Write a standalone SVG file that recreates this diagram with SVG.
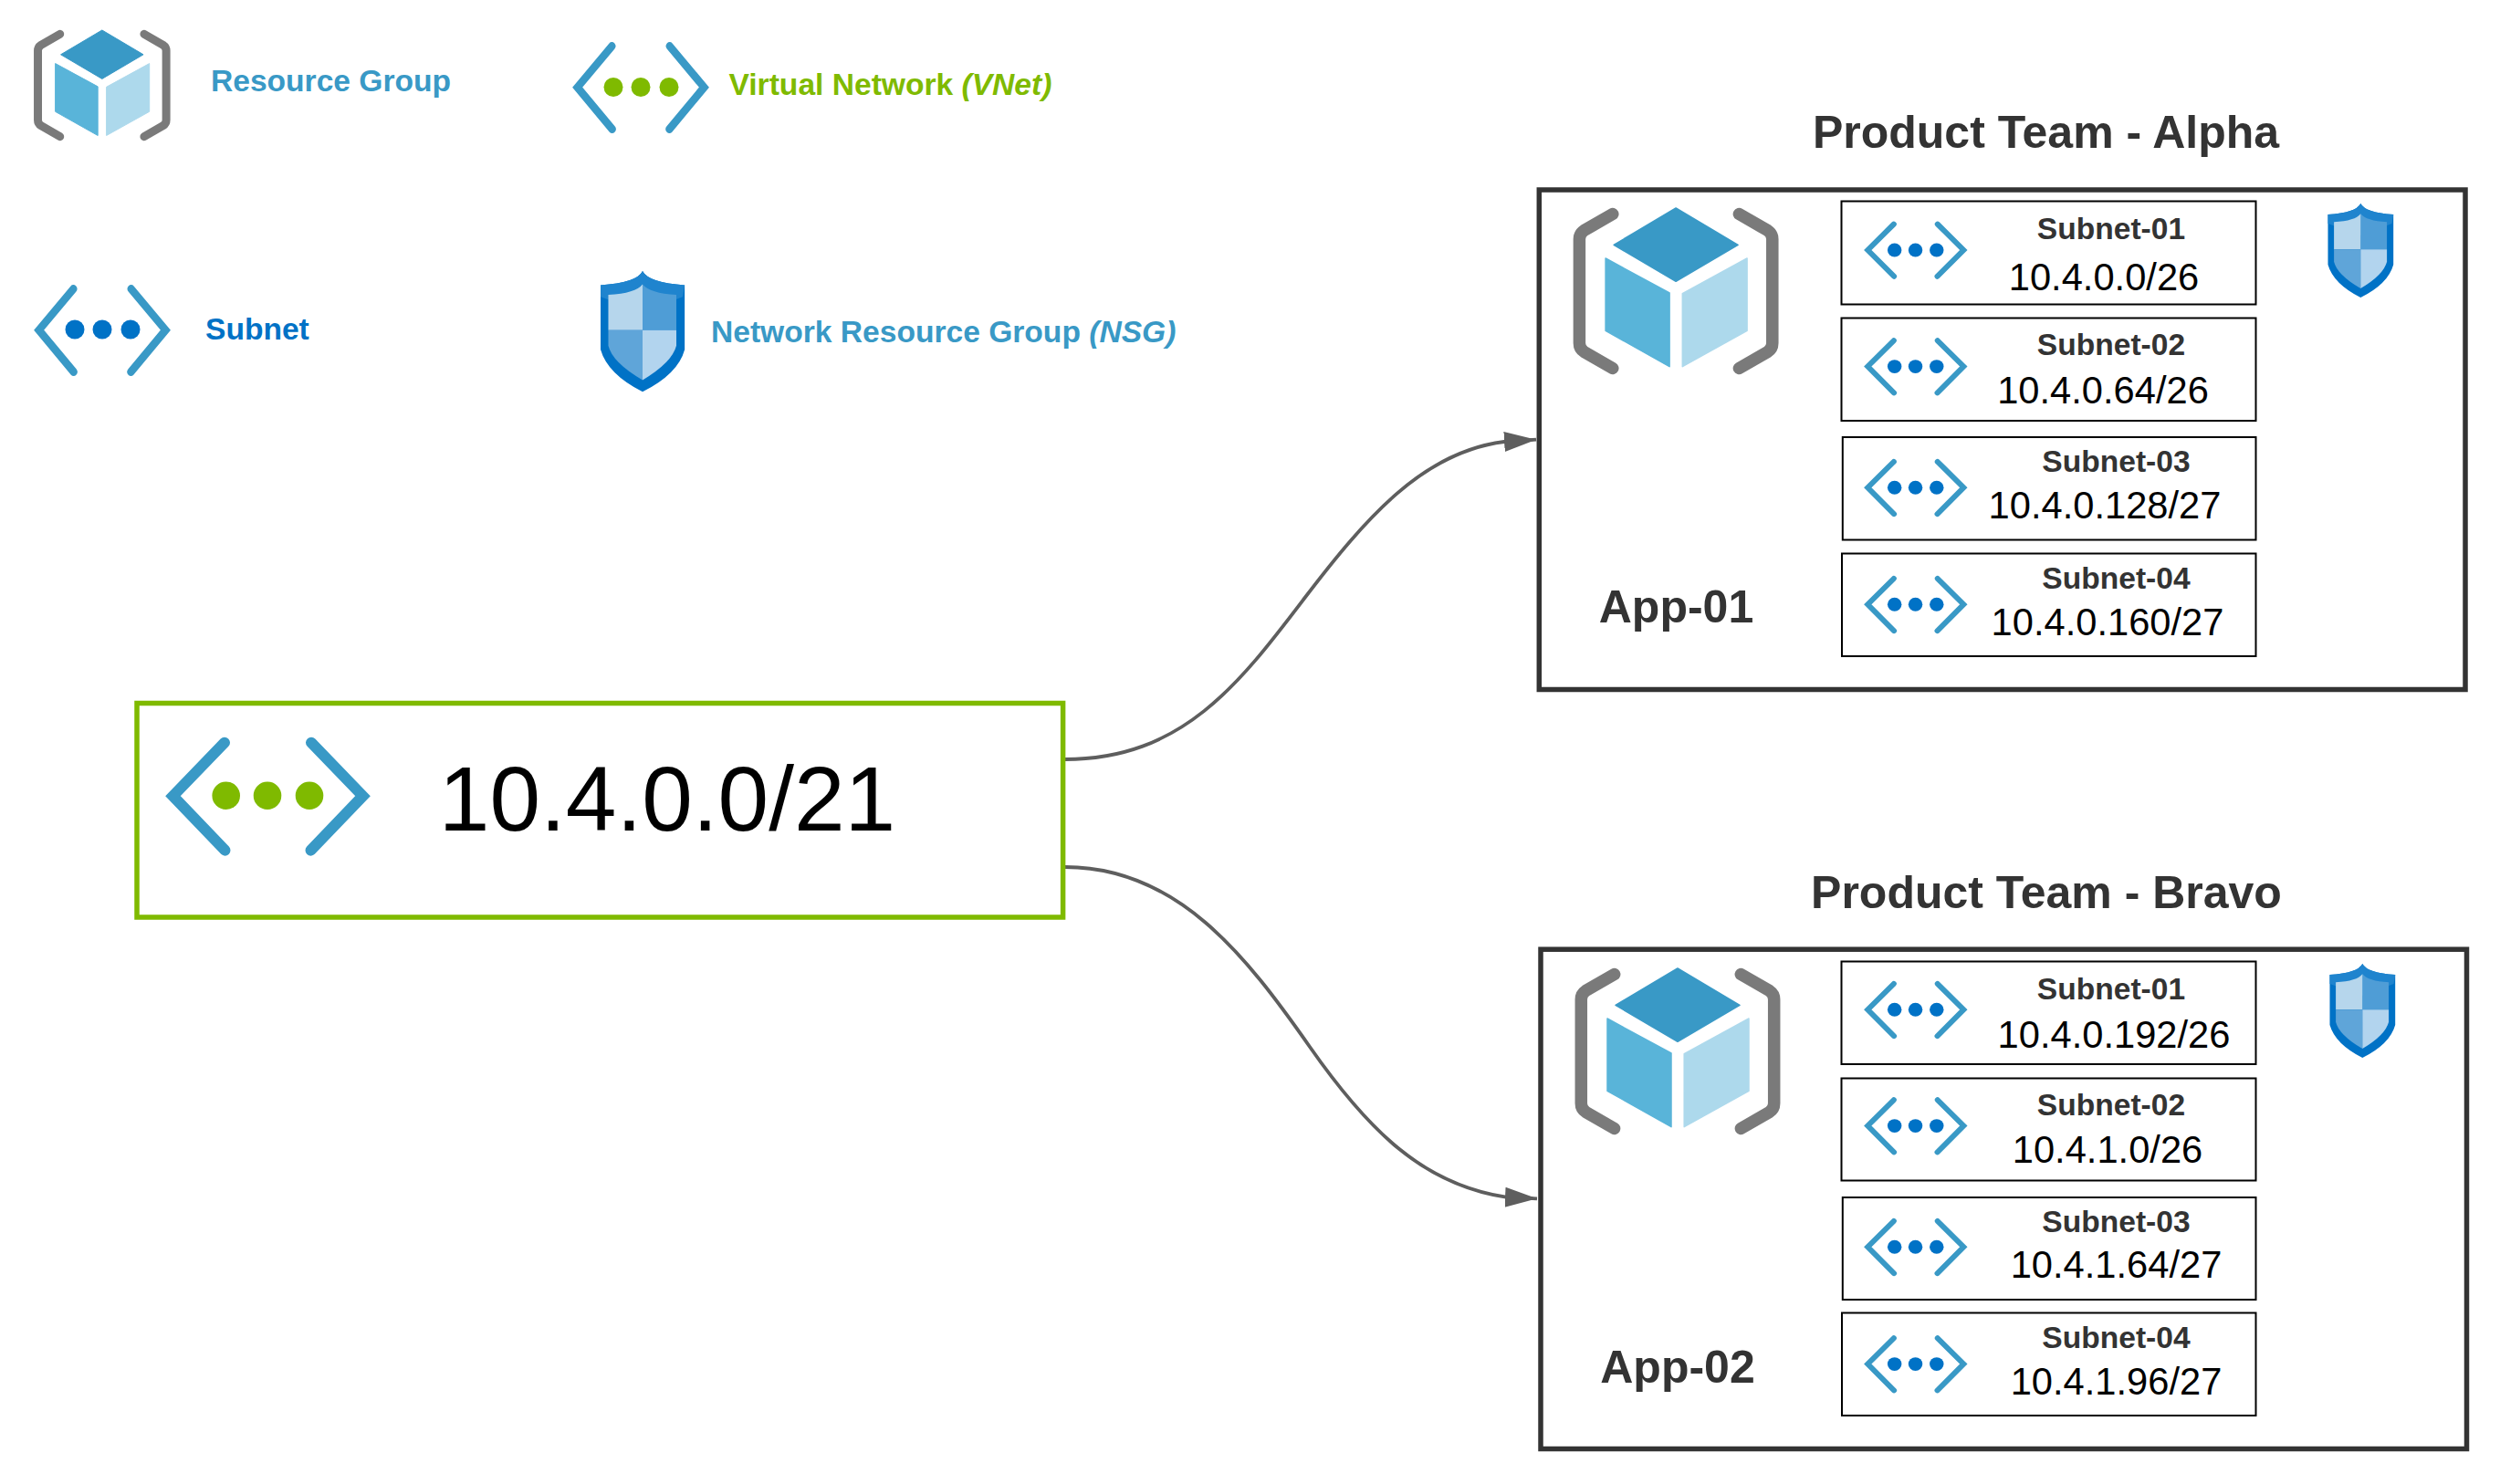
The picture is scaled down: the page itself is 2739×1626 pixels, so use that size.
<svg xmlns="http://www.w3.org/2000/svg" xmlns:xlink="http://www.w3.org/1999/xlink" width="2739" height="1626" viewBox="0 0 2739 1626">
<style>
text{font-family:"Liberation Sans",Arial,sans-serif}
.sn{font-size:33.6px;font-weight:bold;fill:#333;text-anchor:middle}
.ip{font-size:41.67px;fill:#000;text-anchor:middle}
.app{font-size:50px;font-weight:bold;fill:#333;text-anchor:middle}
.title{font-size:50px;font-weight:bold;fill:#333;text-anchor:middle}
.lg{font-size:33.6px;font-weight:bold}
.box{fill:#fff;stroke:#000;stroke-width:2}
.team{fill:#fff;stroke:#333;stroke-width:5.5}
.chev{fill:none;stroke:#3999C6;stroke-width:12;stroke-linecap:round;stroke-linejoin:miter}
.link{fill:none;stroke:#5E5E5E;stroke-width:3.8}
</style>
<defs>
<marker id="arrow" markerUnits="userSpaceOnUse" markerWidth="36" markerHeight="24" refX="35" refY="12" orient="auto"><path d="M0 1 L35 12 L0 23 Z" fill="#5E5E5E"/></marker>
<g id="rg">
<path d="M43.2 6.5 L12 24.5 Q6.8 28 6.8 34 V148 Q6.8 154 12 157.5 L43.2 175.5" fill="none" stroke="#7A7A7A" stroke-width="13.5" stroke-linecap="round"/>
<path d="M181.8 6.5 L213 24.5 Q218.2 28 218.2 34 V148 Q218.2 154 213 157.5 L181.8 175.5" fill="none" stroke="#7A7A7A" stroke-width="13.5" stroke-linecap="round"/>
<path d="M112.5 0 L180.5 40.3 L112.5 80.3 L44.5 40.3 Z" fill="#3999C6" stroke="#3999C6" stroke-width="1.5" stroke-linejoin="round"/>
<path d="M35.5 55 L105.5 93 V173.7 L35.5 134.3 Z" fill="#59B4D9" stroke="#59B4D9" stroke-width="1.5" stroke-linejoin="round"/>
<path d="M190.5 55 L119.7 93.7 V173.7 L190.5 134.3 Z" fill="#ADD9EC" stroke="#ADD9EC" stroke-width="1.5" stroke-linejoin="round"/>
</g>
<g id="chevrons">
<path class="chev" d="M65 6 L8.5 64.5 L65.5 124 M160 6 L216.5 64.5 L159.5 124"/>
</g>
<g id="subnetIcon" transform="scale(0.505 0.485)">
<use href="#chevrons"/>
<ellipse cx="66.7" cy="64.5" rx="15.3" ry="15.3" fill="#0072C6"/><ellipse cx="112" cy="64.5" rx="15.3" ry="15.3" fill="#0072C6"/><ellipse cx="158" cy="64.5" rx="15.3" ry="15.3" fill="#0072C6"/>
</g>
<g id="shield">
<path d="M35.8 0 Q41 10 71.7 12 V67 Q66 88 35.8 103 Q6 88 0 67 V12 Q31 10 35.8 0 Z" fill="#0072C6"/>
<path d="M35.8 0 Q41 10 71.7 12 L70 22 L35.8 35 L0 22 V12 Q31 10 35.8 0 Z" fill="#1F84CE"/>
<path d="M35.8 11.3 Q42 19 64.6 20.3 V50.3 H35.8 Z" fill="#4F9DD6"/>
<path d="M35.8 11.3 Q30 19 6.6 20.3 V50.3 H35.8 Z" fill="#B6D6EC"/>
<path d="M6.6 50.3 H35.8 V93 Q10 78 6.6 63.7 Z" fill="#5FA5D9"/>
<path d="M64.6 50.3 H35.8 V93 Q61 78 64.6 63.7 Z" fill="#B2D4EE"/>
</g>
</defs>

<g id="connectors">
<path class="link" d="M1167 832 C1295 832 1358 749 1428 657 C1498 565 1560 495 1648 484 L1683 481.7" marker-end="url(#arrow)"/>
<path class="link" d="M1167 950 C1290 950 1365 1047 1435 1147 C1500 1240 1560 1298 1650 1311.7 L1684 1313.3" marker-end="url(#arrow)"/>
</g>

<g id="legend-resource-group">
<use href="#rg" transform="translate(37 33) scale(0.665)"/>
<text class="lg" x="231" y="100" fill="#3999C6">Resource Group</text>
</g>
<g id="legend-vnet">
<use href="#chevrons" transform="translate(627 46) scale(0.667 0.77)"/>
<circle cx="702" cy="95.5" r="10.5" fill="#7FBA00"/><circle cx="733" cy="95.5" r="10.5" fill="#7FBA00"/><circle cx="672" cy="95.5" r="10.5" fill="#7FBA00"/>
<text class="lg" x="798.5" y="104" fill="#7FBA00">Virtual Network <tspan font-style="italic">(VNet)</tspan></text>
</g>
<g id="legend-subnet">
<use href="#chevrons" transform="translate(37 312) scale(0.667 0.77)"/>
<circle cx="82" cy="361" r="10.5" fill="#0072C6"/><circle cx="112" cy="361" r="10.5" fill="#0072C6"/><circle cx="143" cy="361" r="10.5" fill="#0072C6"/>
<text class="lg" x="225" y="372.3" fill="#0072C6">Subnet</text>
</g>
<g id="legend-nsg">
<use href="#shield" transform="translate(658 297) scale(1.285)"/>
<text class="lg" x="779" y="375" fill="#3999C6">Network Resource Group <tspan font-style="italic">(NSG)</tspan></text>
</g>

<g id="vnet">
<rect x="150" y="770.5" width="1014.6" height="234.5" fill="#fff" stroke="#7FBA00" stroke-width="5.5"/>
<use href="#chevrons" transform="translate(181 807.7)"/>
<circle cx="247.7" cy="871.7" r="15.3" fill="#7FBA00"/><circle cx="293" cy="871.7" r="15.3" fill="#7FBA00"/><circle cx="339" cy="871.7" r="15.3" fill="#7FBA00"/>
<text x="731" y="910" font-size="100" text-anchor="middle" fill="#000">10.4.0.0/21</text>
</g>

<g id="team-alpha">
<text class="title" x="2241.5" y="162">Product Team - Alpha</text>
<rect class="team" x="1686.3" y="208" width="1014.7" height="547.5"/>
<use href="#rg" transform="translate(1723.6 228)"/>
<text class="app" x="1836.5" y="682">App-01</text>
<use href="#shield" transform="translate(2550.5 223)"/>
<g id="alpha-subnet-01"><rect class="box" x="2017.5" y="220.5" width="454" height="113"/><use href="#subnetIcon" transform="translate(2042 242.7)"/><text class="sn" x="2313" y="261.7">Subnet-01</text><text class="ip" x="2305" y="317.7">10.4.0.0/26</text></g>
<g id="alpha-subnet-02"><rect class="box" x="2017.5" y="348.5" width="454" height="112.5"/><use href="#subnetIcon" transform="translate(2042 370.3)"/><text class="sn" x="2313" y="389">Subnet-02</text><text class="ip" x="2304" y="442.3">10.4.0.64/26</text></g>
<g id="alpha-subnet-03"><rect class="box" x="2018.8" y="479" width="452.7" height="112.5"/><use href="#subnetIcon" transform="translate(2042 503)"/><text class="sn" x="2318.5" y="517">Subnet-03</text><text class="ip" x="2306" y="567.5">10.4.0.128/27</text></g>
<g id="alpha-subnet-04"><rect class="box" x="2018" y="606.5" width="453.5" height="112.5"/><use href="#subnetIcon" transform="translate(2042 631)"/><text class="sn" x="2318.5" y="644.7">Subnet-04</text><text class="ip" x="2309" y="696">10.4.0.160/27</text></g>
</g>

<g id="team-bravo">
<text class="title" x="2242" y="995">Product Team - Bravo</text>
<rect class="team" x="1688" y="1040.2" width="1014.5" height="547.3"/>
<use href="#rg" transform="translate(1725.5 1061)"/>
<text class="app" x="1838" y="1515">App-02</text>
<use href="#shield" transform="translate(2552.5 1056)"/>
<g id="bravo-subnet-01"><rect class="box" x="2017.5" y="1053.5" width="454" height="112.5"/><use href="#subnetIcon" transform="translate(2042 1075)"/><text class="sn" x="2313" y="1094.7">Subnet-01</text><text class="ip" x="2316" y="1147.7">10.4.0.192/26</text></g>
<g id="bravo-subnet-02"><rect class="box" x="2017.5" y="1181.5" width="454" height="112"/><use href="#subnetIcon" transform="translate(2042 1202.3)"/><text class="sn" x="2313" y="1221.5">Subnet-02</text><text class="ip" x="2309" y="1274.3">10.4.1.0/26</text></g>
<g id="bravo-subnet-03"><rect class="box" x="2018.8" y="1312" width="452.7" height="112"/><use href="#subnetIcon" transform="translate(2042 1335)"/><text class="sn" x="2318.5" y="1349.8">Subnet-03</text><text class="ip" x="2318.5" y="1399.8">10.4.1.64/27</text></g>
<g id="bravo-subnet-04"><rect class="box" x="2018" y="1438.5" width="453.5" height="112.5"/><use href="#subnetIcon" transform="translate(2042 1463.3)"/><text class="sn" x="2318.5" y="1477.2">Subnet-04</text><text class="ip" x="2318.5" y="1528">10.4.1.96/27</text></g>
</g>
</svg>
